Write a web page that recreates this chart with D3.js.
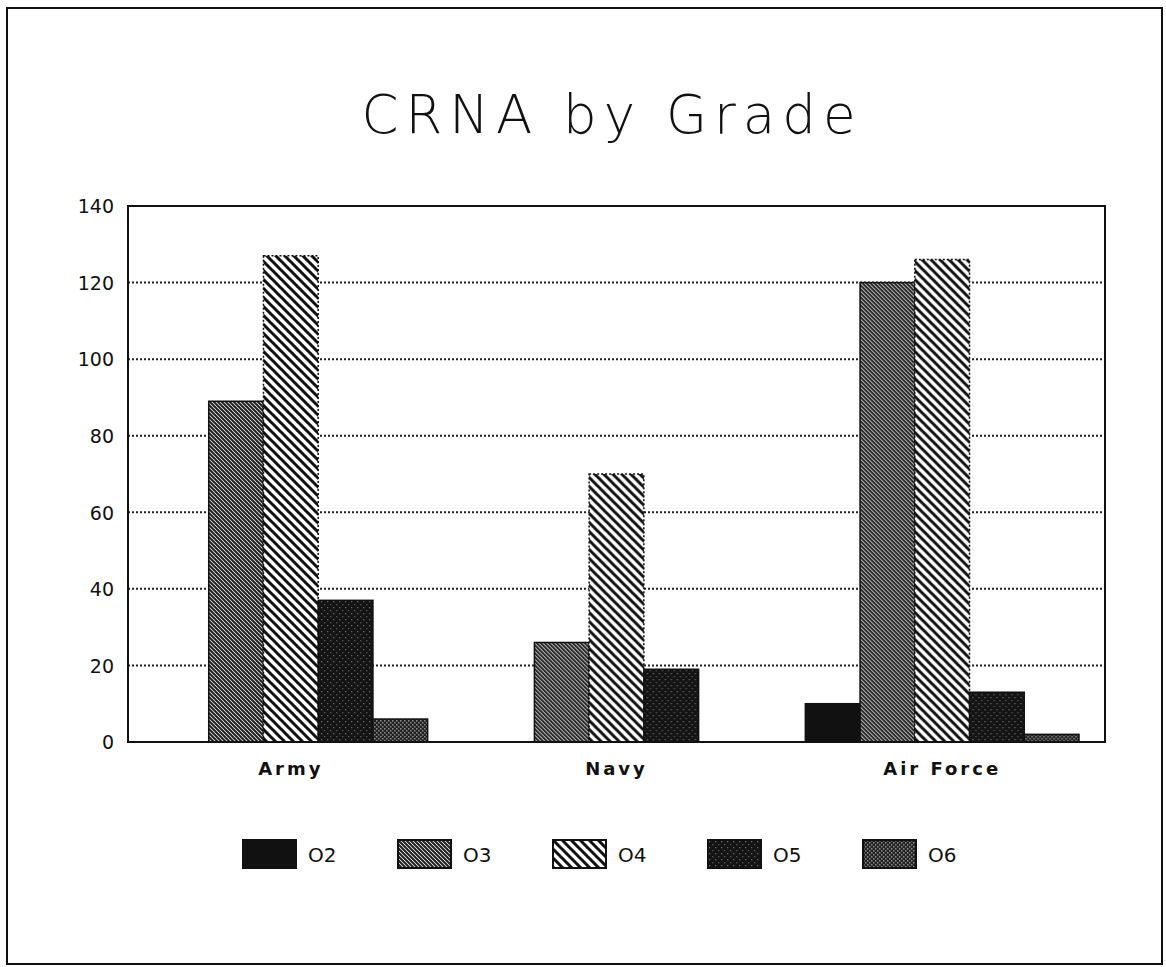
<!DOCTYPE html>
<html>
<head>
<meta charset="utf-8">
<script src="https://cdn.jsdelivr.net/npm/d3@7"></script>
<style>
  body { margin: 0; background: #fff; }
  svg { display: block; }
  text { font-family: "DejaVu Sans", sans-serif; fill: #111; }
</style>
</head>
<body>
<svg id="chart" width="1166" height="967"></svg>
<script>
const branches = ["Army", "Navy", "Air Force"];
const grades = ["O2", "O3", "O4", "O5", "O6"];
const o2 = [0, 0, 10];
const o3 = [89, 26, 120];
const o4 = [127, 70, 126];
const o5 = [37, 19, 13];
const o6 = [6, 0, 2];
const yTicks = [0, 20, 40, 60, 80, 100, 120, 140];

const series = [o2, o3, o4, o5, o6];

const svg = d3.select("#chart");
const margin = { left: 128, right: 1105, top: 206, bottom: 742 };

// outer frame
svg.append("rect")
    .attr("x", 7).attr("y", 8)
    .attr("width", 1155).attr("height", 956)
    .attr("fill", "none").attr("stroke", "#111").attr("stroke-width", 2);

// hatch / dot patterns
const defs = svg.append("defs");

const p3 = defs.append("pattern").attr("id", "pat-O3")
    .attr("patternUnits", "userSpaceOnUse").attr("width", 4).attr("height", 4);
p3.append("rect").attr("width", 4).attr("height", 4).attr("fill", "#fff");
p3.append("path").attr("d", "M-1,-1 L5,5 M-1,3 L1,5 M3,-1 L5,1")
    .attr("stroke", "#222").attr("stroke-width", 2.1);

const p4 = defs.append("pattern").attr("id", "pat-O4")
    .attr("patternUnits", "userSpaceOnUse").attr("width", 9).attr("height", 9);
p4.append("rect").attr("width", 9).attr("height", 9).attr("fill", "#fff");
p4.append("path").attr("d", "M-2,-2 L11,11 M-2,7 L2,11 M7,-2 L11,2")
    .attr("stroke", "#111").attr("stroke-width", 3);

const p5 = defs.append("pattern").attr("id", "pat-O5")
    .attr("patternUnits", "userSpaceOnUse").attr("width", 6).attr("height", 6);
p5.append("rect").attr("width", 6).attr("height", 6).attr("fill", "#141414");
p5.append("rect").attr("x", 1).attr("y", 1).attr("width", 1.3).attr("height", 1.3).attr("fill", "#666");
p5.append("rect").attr("x", 4).attr("y", 4).attr("width", 1.3).attr("height", 1.3).attr("fill", "#555");

const p6 = defs.append("pattern").attr("id", "pat-O6")
    .attr("patternUnits", "userSpaceOnUse").attr("width", 4).attr("height", 4);
p6.append("rect").attr("width", 4).attr("height", 4).attr("fill", "#222");
p6.append("rect").attr("x", 0).attr("y", 0).attr("width", 1.5).attr("height", 1.5).attr("fill", "#8a8a8a");
p6.append("rect").attr("x", 2).attr("y", 2).attr("width", 1.5).attr("height", 1.5).attr("fill", "#8a8a8a");

const fills = {
    O2: "#111",
    O3: "url(#pat-O3)",
    O4: "url(#pat-O4)",
    O5: "url(#pat-O5)",
    O6: "url(#pat-O6)"
};

// scales
const x0 = d3.scaleBand().domain(branches)
    .range([margin.left, margin.right]).paddingInner(0).paddingOuter(0);
const x1 = d3.scaleBand().domain(grades)
    .range([26, x0.bandwidth() - 26]).padding(0);
const y = d3.scaleLinear().domain([0, 140]).range([margin.bottom, margin.top]);

// grid lines
svg.append("g").selectAll("line")
    .data(yTicks.filter(d => d > 0 && d < 140))
    .join("line")
    .attr("x1", margin.left).attr("x2", margin.right)
    .attr("y1", d => y(d)).attr("y2", d => y(d))
    .attr("stroke", "#222").attr("stroke-width", 2)
    .attr("stroke-dasharray", "2,2");

// bars
const groups = svg.append("g").selectAll("g")
    .data(branches)
    .join("g")
    .attr("transform", d => `translate(${x0(d)},0)`);

groups.selectAll("rect")
    .data((b, i) => grades.map((g, k) => ({ grade: g, value: series[k][i] })))
    .join("rect")
    .filter(d => d.value > 0)
    .attr("x", d => x1(d.grade))
    .attr("y", d => y(d.value))
    .attr("width", x1.bandwidth())
    .attr("height", d => y(0) - y(d.value))
    .attr("fill", d => fills[d.grade])
    .attr("stroke", "#111")
    .attr("stroke-width", 1.5)
    .attr("stroke-dasharray", d => d.grade === "O4" ? "2,2" : null);

// plot frame
svg.append("rect")
    .attr("x", margin.left).attr("y", margin.top)
    .attr("width", margin.right - margin.left)
    .attr("height", margin.bottom - margin.top)
    .attr("fill", "none").attr("stroke", "#111").attr("stroke-width", 2);

// y axis
const yAxis = d3.axisLeft(y).tickValues(yTicks).tickSize(0).tickPadding(14);
const yg = svg.append("g")
    .attr("transform", `translate(${margin.left},0)`)
    .call(yAxis);
yg.select(".domain").remove();
yg.selectAll("text")
    .style("font-size", "19px")
    .attr("dy", "0.36em");

// x axis labels
const xAxis = d3.axisBottom(x0).tickSize(0).tickPadding(20);
const xg = svg.append("g")
    .attr("transform", `translate(0,${margin.bottom})`)
    .call(xAxis);
xg.select(".domain").remove();
xg.selectAll("text")
    .style("font-size", "18px")
    .style("font-weight", "bold")
    .style("letter-spacing", "3px");

// title
svg.append("text")
    .attr("x", 612).attr("y", 133)
    .attr("text-anchor", "middle")
    .style("font-size", "53px")
    .style("font-weight", "200")
    .style("letter-spacing", "7px")
    .text("CRNA by Grade");

// legend
const legend = svg.append("g").selectAll("g")
    .data(grades)
    .join("g")
    .attr("transform", (d, i) => `translate(${243 + i * 155},840)`);

legend.append("rect")
    .attr("width", 53).attr("height", 28)
    .attr("fill", d => fills[d])
    .attr("stroke", "#111").attr("stroke-width", 2);

legend.append("text")
    .attr("x", 65).attr("y", 22)
    .style("font-size", "20px")
    .text(d => d);
</script>
</body>
</html>
